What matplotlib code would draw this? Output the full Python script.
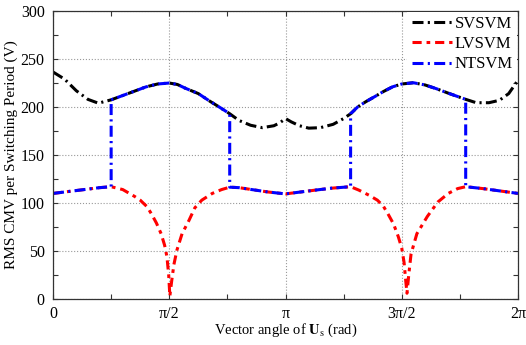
import numpy as np
import matplotlib
matplotlib.use('Agg')
import matplotlib.pyplot as plt
from matplotlib.ticker import MultipleLocator

# Vector angle given in units of pi/2 (V)
sv_u = [0, .1, .2, .3, .39, .5, .6, .7, .8, .9, 1.0, 1.07, 1.14, 1.25, 1.35, 1.43, 1.52,
        1.6, 1.7, 1.8, 1.9, 1.95, 2.0, 2.05, 2.12, 2.2, 2.3, 2.41, 2.5, 2.56, 2.62, 2.69,
        2.77, 2.84, 2.92, 3.0, 3.1, 3.2, 3.3, 3.41, 3.55, 3.64, 3.75, 3.84, 3.92, 4.0]
sv_v = [236.5, 229, 217, 208, 204, 207.5, 212, 216.5, 221, 224, 225, 223.5, 219.5, 214, 206,
        200, 193, 186, 181, 178.5, 180.5, 183.5, 188, 184.5, 180.5, 178, 178.5, 182, 188, 193,
        200, 205.5, 211, 216, 221, 224, 225.3, 223, 219, 214, 208, 204.5, 204.5, 207, 214, 228]

lv_u = [0, .1, .2, .3, .4, .5, .6, .7, .75, .81, .85, .89, .93, .96, .98, .995, 1.005, 1.02,
        1.04, 1.066, 1.11, 1.17, 1.22, 1.28, 1.37, 1.45, 1.52, 1.6, 1.71, 1.85, 2.0, 2.13,
        2.26, 2.4, 2.56, 2.63, 2.72, 2.79, 2.84, 2.88, 2.93, 2.97, 3.0, 3.02, 3.035, 3.045,
        3.06, 3.08, 3.13, 3.22, 3.31, 3.4, 3.48, 3.55, 3.7, 3.85, 4.0]
lv_v = [110, 111.5, 113, 114.5, 116, 117, 114, 107, 103, 96, 88, 79, 68, 56, 44, 25, 3, 18,
        36, 51, 68, 82, 95, 103, 110, 114, 116.5, 116, 114, 111.5, 109.5, 111.5, 113.5, 115.5,
        117, 113.5, 108, 103, 97, 89, 78, 65, 53, 38, 18, 6, 25, 47, 68, 86, 101, 110, 115,
        117, 115, 112.5, 110]

# NTSVM jumps between LVSVM and SVSVM at these angles (pi/2 units)
nt_switch = [0.5, 1.52, 2.56, 3.55]

xtick_labels = ['0', 'π/2', 'π', '3π/2', '2π']

sv_u, sv_v = np.array(sv_u), np.array(sv_v)
lv_u, lv_v = np.array(lv_u), np.array(lv_v)

# build NTSVM from the two curves
bounds = [0] + nt_switch + [4]
nt_u, nt_v = [], []
for i in range(len(bounds) - 1):
    a, b = bounds[i], bounds[i + 1]
    su, sv = (lv_u, lv_v) if i % 2 == 0 else (sv_u, sv_v)
    m = (su >= a - 1e-9) & (su <= b + 1e-9)
    nt_u.extend(su[m])
    nt_v.extend(sv[m])
nt_u, nt_v = np.array(nt_u), np.array(nt_v)

plt.rcParams['font.family'] = ['Liberation Serif', 'DejaVu Serif']
plt.rcParams['mathtext.fontset'] = 'stix'

fig = plt.figure(figsize=(5.26, 3.45), dpi=100)
ax = fig.add_axes([0.1008, 0.1333, 0.8840, 0.8347])

dd = (0, (3.6, 1.4, 0.7, 1.4))
ax.plot(sv_u * np.pi / 2, sv_v, color='black', lw=2.2, ls=dd, label='SVSVM')
ax.plot(lv_u * np.pi / 2, lv_v, color='red', lw=2.2, ls=(0, (3.0, 1.6, 1.2, 1.6)), label='LVSVM')
ax.plot(nt_u * np.pi / 2, nt_v, color='blue', lw=2.2, ls=dd, label='NTSVM')

ax.set_xlim(0, 2 * np.pi)
ax.set_ylim(0, 300)
ax.set_xticks(np.arange(5) * np.pi / 2)
ax.set_xticklabels(xtick_labels)
ax.xaxis.set_minor_locator(MultipleLocator(np.pi / 4))
ax.yaxis.set_major_locator(MultipleLocator(50))
ax.yaxis.set_minor_locator(MultipleLocator(25))
ax.tick_params(which='both', direction='in', top=True, right=True, length=3.5,
               width=0.8, labelsize=11.5, color='#333333')
ax.tick_params(axis='y', pad=6)
ax.tick_params(axis='x', pad=5)
ax.grid(True, which='major', ls=':', color='#999999', lw=0.8)
for s in ax.spines.values():
    s.set_color('#333333')
    s.set_linewidth(0.9)

ax.set_ylabel('RMS CMV per Switching Period (V)', fontsize=11)
ax.yaxis.set_label_coords(-0.076, 0.5)
ax.set_xlabel(r'Vector angle of $\mathbf{U}_\mathrm{s}$ (rad)', fontsize=10.5)
ax.xaxis.set_label_coords(0.5, -0.08)

leg = ax.legend(loc='upper right', fontsize=12, handlelength=2.4, handletextpad=0.2,
                labelspacing=0.25, borderaxespad=0.05, borderpad=0.25, frameon=True,
                fancybox=False)
leg.get_frame().set_facecolor('white')
leg.get_frame().set_edgecolor('none')
leg.get_frame().set_alpha(1)

fig.savefig('out.png', dpi=100)
